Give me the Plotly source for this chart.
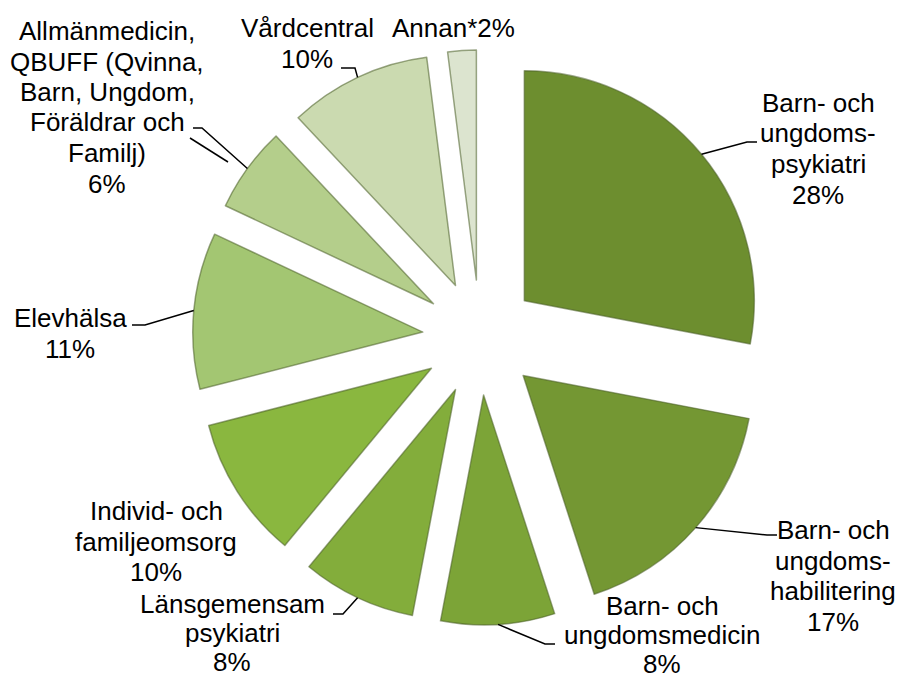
import math

import plotly.graph_objects as go

# slices, clockwise from 12 o'clock
labels = [
    "Barn- och<br>ungdoms-<br>psykiatri",
    "Barn- och<br>ungdoms-<br>habilitering",
    "Barn- och<br>ungdomsmedicin",
    "Länsgemensam<br>psykiatri",
    "Individ- och<br>familjeomsorg",
    "Elevhälsa",
    "Allmänmedicin,<br>QBUFF (Qvinna,<br>Barn, Ungdom,<br>Föräldrar och<br>Familj)",
    "Vårdcentral",
    "Annan*",
]
values = [28, 17, 8, 8, 10, 11, 6, 10, 2]
colors = ["#6d8e2f", "#749733", "#7ca437", "#83ad3b", "#8ab73f",
          "#a3c672", "#b4ce8b", "#cbdab0", "#dce4cf"]

W, H = 904, 681
PULL = 0.25
CX, CY = 480, 337.5          # pie centre, px
R = 230                      # slice radius, px
OUTER = R * (1 + PULL)

# label block: centre x, first line y (px), line gap; leader elbow + end (px) or None
label_pos = [(818, 103, 30.5), (833, 530, 30.5), (662, 606, 29), (232, 604, 29),
             (156, 511, 30.5), (70, 318, 30.5), (107, 31, 30.5), (307, 28, 30.5),
             (453, 28, 30.5)]
leaders = [
    [(747, 142), (757, 142)],
    [(767, 535), (777, 535)],
    [(545, 644), (555, 644)],
    [(343, 614), (333, 614)],
    None,
    [(145, 325), (132, 325)],
    [(202, 128), (193, 128)],
    [(355, 68), (341, 68)],
    None,
]
FONT = dict(family="Arial, Liberation Sans, sans-serif", size=26, color="#000000")


def px(x, y):
    return x / W, 1 - y / H


fig = go.Figure(go.Pie(
    labels=[l.replace("<br>", " ") for l in labels],
    values=values,
    sort=False,
    direction="clockwise",
    rotation=0,
    pull=[PULL] * len(values),
    marker=dict(colors=colors, line=dict(color="rgba(75,95,40,0.55)", width=1.5)),
    textinfo="none",
    hoverinfo="label+percent",
    showlegend=False,
    domain=dict(x=[(CX - OUTER) / W, (CX + OUTER) / W],
                y=[1 - (CY + OUTER) / H, 1 - (CY - OUTER) / H]),
))

total = sum(values)
cum = 0
annotations = []
shapes = []
for lab, v, (lx, ly, gap), lead in zip(labels, values, label_pos, leaders):
    mid = math.radians((cum + v / 2) / total * 360)
    cum += v
    pct = f"{round(v / total * 100)}%"
    lines = lab.split("<br>")
    if len(lines) == 1 and lab.endswith("*"):
        lines = [lab + pct]
    else:
        lines.append(pct)
    for i, t in enumerate(lines):
        x, y = px(lx, ly + i * gap)
        annotations.append(dict(x=x, y=y, xref="paper", yref="paper", text=t,
                                showarrow=False, font=FONT,
                                xanchor="center", yanchor="middle"))
    if lead:
        # leader starts at the middle of the pulled slice's arc
        ax = CX + OUTER * math.sin(mid)
        ay = CY - OUTER * math.cos(mid)
        pts = [px(ax, ay)] + [px(*p) for p in lead]
        path = "M " + " L ".join(f"{a:.5f},{b:.5f}" for a, b in pts)
        shapes.append(dict(type="path", path=path, xref="paper", yref="paper",
                           line=dict(color="#000000", width=1.5)))

# stray second leader stroke beside the Allmänmedicin label
a, b = px(228, 162), px(190, 138)
shapes.append(dict(type="line", x0=a[0], y0=a[1], x1=b[0], y1=b[1],
                   xref="paper", yref="paper", line=dict(color="#000000", width=1.5)))

fig.update_layout(
    width=W, height=H,
    margin=dict(l=0, r=0, t=0, b=0),
    paper_bgcolor="#ffffff",
    plot_bgcolor="#ffffff",
    annotations=annotations,
    shapes=shapes,
)

fig.write_html("out.html", config={"displayModeBar": False},
               post_script="document.body.style.margin='0';document.body.style.overflow='hidden';")
